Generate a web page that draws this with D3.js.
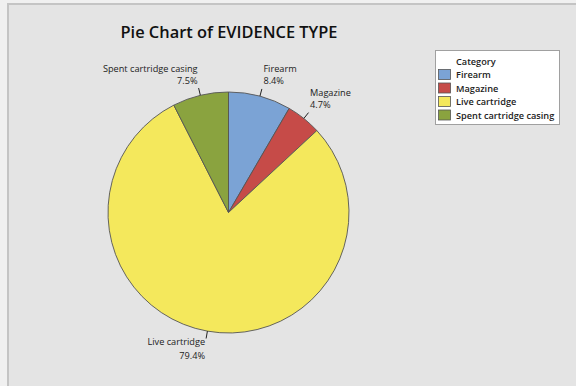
<!DOCTYPE html>
<html><head><meta charset="utf-8">
<script src="https://cdn.jsdelivr.net/npm/d3@7"></script>
<style>html,body{margin:0;padding:0;background:#f0f0f0;}svg{display:block;}</style>
</head><body>
<svg id="c" width="576" height="386"></svg>
<script>
const categories = ["Firearm", "Magazine", "Live cartridge", "Spent cartridge casing"];
const percents = [8.4, 4.7, 79.4, 7.5];
const colors = ["#7ba3d5", "#c64b48", "#f4e85c", "#8aa33f"];
const titleText = "Pie Chart of EVIDENCE TYPE";
const legendTitle = "Category";

const svg = d3.select("#c");
const font = "'Open Sans', 'Noto Sans', sans-serif";

svg.append("rect").attr("x", 8).attr("y", 4).attr("width", 600).attr("height", 400)
  .attr("fill", "#e4e4e4").attr("stroke", "#c4c4c4").attr("stroke-width", 2);

svg.append("text").attr("x", 229).attr("y", 38).attr("text-anchor", "middle")
  .attr("font-family", font).attr("font-size", 16.4).attr("font-weight", 600)
  .attr("fill", "#111").text(titleText);

const cx = 228.5, cy = 212.5, r = 120.5;
const data = categories.map((c, i) => ({cat: c, val: percents[i], color: colors[i]}));
const pie = d3.pie().value(d => d.val).sort(null);
const arcs = pie(data);
const arc = d3.arc().innerRadius(0).outerRadius(r);
const g = svg.append("g").attr("transform", `translate(${cx},${cy})`);
g.selectAll("path").data(arcs).join("path")
  .attr("d", arc).attr("fill", d => d.data.color)
  .attr("stroke", "#555").attr("stroke-width", 0.9);

arcs.forEach(a => {
  const m = (a.startAngle + a.endAngle) / 2;
  const s = Math.sin(m), c = Math.cos(m);
  const x0 = s * r, y0 = -c * r, x1 = s * (r + 7.5), y1 = -c * (r + 7.5);
  g.append("line").attr("x1", x0).attr("y1", y0).attr("x2", x1).attr("y2", y1)
    .attr("stroke", "#222").attr("stroke-width", 1);
  const right = s > 0;
  const tx = right ? x1 + 1.5 : x1 - 1;
  const top = c > 0;
  const b1 = top ? y1 - 16.5 : y1 + 6.5;
  const b2 = top ? y1 - 4.5 : y1 + 20;
  const t = g.append("text").attr("font-family", font).attr("font-size", 9.2)
    .attr("fill", "#222").attr("text-anchor", right ? "start" : "end");
  t.append("tspan").attr("x", tx).attr("y", b1).text(a.data.cat);
  t.append("tspan").attr("x", tx).attr("y", b2).text(a.data.val.toFixed(1) + "%");
});

const lg = svg.append("g");
lg.append("rect").attr("x", 435.5).attr("y", 50.5).attr("width", 124).attr("height", 74)
  .attr("fill", "#fff").attr("stroke", "#a0a0a0").attr("stroke-width", 1);
lg.append("text").attr("x", 456).attr("y", 64.5).attr("font-family", font).attr("font-size", 9.2)
  .attr("font-weight", 600).attr("fill", "#222").text(legendTitle);
data.forEach((d, i) => {
  const y = 69 + i * 13.5;
  lg.append("rect").attr("x", 438.5).attr("y", y + 0.5).attr("width", 12).attr("height", 10)
    .attr("fill", d.color).attr("stroke", "#555").attr("stroke-width", 0.8);
  lg.append("text").attr("x", 456).attr("y", y + 9).attr("font-family", font).attr("font-size", 9.2)
    .attr("font-weight", 600).attr("fill", "#222").text(d.cat);
});
</script>
</body></html>
